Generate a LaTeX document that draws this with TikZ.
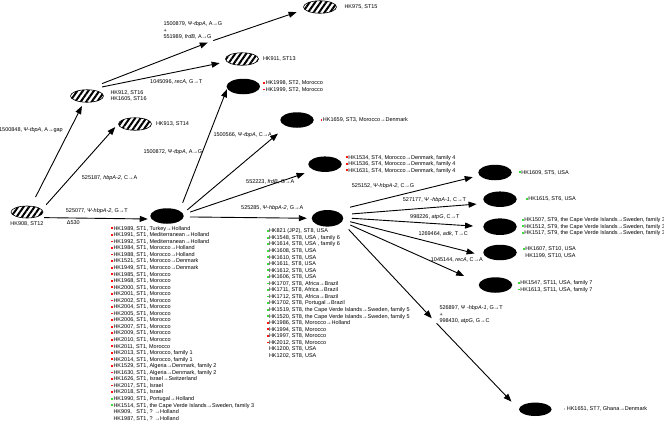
\documentclass[tikz,border=0pt]{standalone}
\usepackage{fontspec}
\setmainfont{Liberation Sans}
\usepackage{tikz}
\usetikzlibrary{positioning}
\usetikzlibrary{shapes.geometric}
\usetikzlibrary{arrows.meta}
\usetikzlibrary{patterns.meta}

\definecolor{dotred}{RGB}{250,20,20}
\definecolor{dotgreen}{RGB}{60,220,60}
\definecolor{dotgrey}{RGB}{190,205,190}

\newcommand{\lbl}{\fontsize{5.5}{6.55}\selectfont}
\newcommand{\rd}{\textcolor{dotred}{\rule[0.9pt]{1.8pt}{1.8pt}}\hspace{0.5pt}}
\newcommand{\gd}{\textcolor{dotgreen}{\rule[0.9pt]{1.8pt}{1.8pt}}\hspace{0.5pt}}
\newcommand{\od}{\textcolor{dotgrey}{\rule[0.9pt]{1.8pt}{1.8pt}}\hspace{1.5pt}}
\newcommand{\nd}{\hphantom{\rule{1.8pt}{1.8pt}}\hspace{0.5pt}}

\tikzset{
  hatched/.style={ellipse, draw, line width=0.6pt, minimum width=33pt, minimum height=12.5pt, inner sep=0pt,
    pattern={Lines[angle=55,distance=4.5pt,line width=2pt]}},
  blob/.style={ellipse, fill=black, minimum width=33.5pt, minimum height=15.5pt, inner sep=0pt},
  arr/.style={-{Triangle[length=8pt,width=6pt]}, line width=0.9pt},
  txt/.style={font=\lbl, inner sep=0pt, text height=4pt, text depth=1.2pt},
  lst/.style={font=\lbl, inner sep=0pt, align=left},
}

\begin{document}
\begin{tikzpicture}[x=1pt,y=-1pt]
\useasboundingbox (0,0) rectangle (664,421);

\node[hatched, minimum width=32pt, minimum height=12pt] (hk908) at (27,212) {};
\node[hatched] (hk912) at (87,96) {};
\node[hatched] (hk913) at (135,124) {};
\node[hatched] (hk911) at (242,59) {};
\node[hatched] (hk975) at (320,7) {};

\node[blob] (st1) at (167,216) {};
\node[blob] (st2) at (243.3,86.5) {};
\node[blob] (st3) at (297,120) {};
\node[blob] (st4) at (325,164.2) {};
\node[blob, minimum width=31.6pt, minimum height=16.6pt] (st8) at (327.5,218.3) {};
\node[blob] (st5) at (495,172.5) {};
\node[blob] (st6) at (500,199.2) {};
\node[blob, minimum height=16.6pt] (st9) at (500,226.7) {};
\node[blob] (st10) at (500,252.5) {};
\node[blob] (st11) at (495.5,285) {};
\node[blob, minimum width=32.6pt, minimum height=13.4pt] (st7) at (535.3,409.3) {};

\coordinate (hyp1) at (210.5,41.5);
\coordinate (hyp2) at (434.2,320.8);

\node[txt, below=2pt of hk908] (hk908lab) {HK908, ST12};
\node[lst, right=6.5pt of hk912] (hk912lab) {HK912, ST16\\HK1605, ST16};
\node[txt, right=4pt of hk913] (hk913lab) {HK913, ST14};
\node[txt, right=4pt of hk911] (hk911lab) {HK911, ST13};
\node[txt, right=7.5pt of hk975] (hk975lab) {HK975, ST15};

\node[lst, right=3pt of st2] (st2lab) {\rd HK1998, ST2, Morocco\\\rd HK1999, ST2, Morocco};
\node[lst, right=6.5pt of st3] (st3lab) {\rd HK1659, ST3, Morocco→Denmark};
\node[lst, right=4pt of st4] (st4lab) {\rd HK1534, ST4, Morocco→Denmark, family 4\\
  \rd HK1536, ST4, Morocco→Denmark, family 4\\\rd HK1631, ST4, Morocco→Denmark, family 4};
\node[lst, right=7pt of st5] (st5lab) {\gd HK1609, ST5, USA};
\node[lst, right=9pt of st6] (st6lab) {\gd HK1615, ST6, USA};
\node[lst, right=5pt of st9] (st9lab) {\gd HK1507, ST9, the Cape Verde Islands→Sweden, family 3\\
  \gd HK1512, ST9, the Cape Verde Islands→Sweden, family 3\\
  \gd HK1517, ST9, the Cape Verde Islands→Sweden, family 3};
\node[lst, right=6pt of st10] (st10lab) {\gd HK1607, ST10, USA\\\nd HK1199, ST10, USA};
\node[lst, right=5.5pt of st11, yshift=-1.5pt] (st11lab) {\gd HK1547, ST11, USA, family 7\\\gd HK1613, ST11, USA, family 7};
\node[lst, right=11.5pt of st7] (st7lab) {\od HK1651, ST7, Ghana→Denmark};

\node[lst, anchor=north west] (st1list) at (111,226) {\rd HK1989, ST1, Turkey→Holland\\
\rd HK1991, ST1, Mediterranean→Holland\\
\rd HK1992, ST1, Mediterranean→Holland\\
\rd HK1984, ST1, Morocco→Holland\\
\rd HK1988, ST1, Morocco→Holland\\
\rd HK1521, ST1, Morocco→Denmark\\
\rd HK1949, ST1, Morocco→Denmark\\
\rd HK1985, ST1, Morocco\\
\rd HK1968, ST1, Morocco\\
\rd HK2000, ST1, Morocco\\
\rd HK2001, ST1, Morocco\\
\rd HK2002, ST1, Morocco\\
\rd HK2004, ST1, Morocco\\
\rd HK2005, ST1, Morocco\\
\rd HK2006, ST1, Morocco\\
\rd HK2007, ST1, Morocco\\
\rd HK2009, ST1, Morocco\\
\rd HK2010, ST1, Morocco\\
\rd HK2011, ST1, Morocco\\
\rd HK2013, ST1, Morocco, family 1\\
\rd HK2014, ST1, Morocco, family 1\\
\rd HK1529, ST1, Algeria→Denmark, family 2\\
\rd HK1630, ST1, Algeria→Denmark, family 2\\
\rd HK1626, ST1, Israel→Switzerland\\
\rd HK2017, ST1, Israel\\
\rd HK2018, ST1, Israel\\
\gd HK1990, ST1, Portugal→Holland\\
\gd HK1514, ST1, the Cape Verde Islands→Sweden, family 3\\
\nd HK909,\hphantom{0} ST1, ? →Holland\\
\nd HK1987, ST1, ? →Holland};

\node[lst, anchor=north west] (st8list) at (266.5,228.7) {\gd HK821 (JP2), ST8, USA\\
\gd HK1548, ST8, USA , family 6\\
\gd HK1614, ST8, USA , family 6\\
\gd HK1608, ST8, USA\\
\gd HK1610, ST8, USA\\
\gd HK1611, ST8, USA\\
\gd HK1612, ST8, USA\\
\gd HK1606, ST8, USA\\
\gd HK1707, ST8, Africa→Brazil\\
\gd HK1711, ST8, Africa→Brazil\\
\gd HK1712, ST8, Africa→Brazil\\
\gd HK1702, ST8, Portugal→Brazil\\
\gd HK1519, ST8, the Cape Verde Islands→Sweden, family 5\\
\gd HK1520, ST8, the Cape Verde Islands→Sweden, family 5\\
\rd HK1986, ST8, Morocco→Holland\\
\rd HK1994, ST8, Morocco\\
\rd HK1997, ST8, Morocco\\
\rd HK2012, ST8, Morocco\\
\nd HK1200, ST8, USA\\
\nd HK1202, ST8, USA};

\node[txt, anchor=east] (m1500848) at (63,130) {1500848, Ψ-\textit{tbpA}, A→gap};
\node[txt, anchor=west] (m525187) at (81.7,178.3) {525187, \textit{hbpA-2}, C→A};
\node[txt, anchor=west] (m525077) at (65.7,211) {525077, Ψ-\textit{hbpA-2}, G→T};
\node[txt, anchor=west] (del530) at (66.7,222.7) {Δ530};
\node[txt, anchor=west] (m1045096) at (150,81.7) {1045096, \textit{recA}, G→T};
\node[lst, anchor=west] (m1500879) at (163.3,30.5) {1500879, Ψ-\textit{tbpA}, A→G\\+\\551989, \textit{frdB}, A→G};
\node[txt, anchor=west] (m1500872) at (143.3,151.7) {1500872, Ψ-\textit{tbpA}, A→G};
\node[txt, anchor=west] (m1500566) at (213.3,135) {1500566, Ψ-\textit{tbpA}, C→A};
\node[txt, anchor=west] (m552223) at (246,181.7) {552223, \textit{frdB}, G→A};
\node[txt, anchor=west] (m525285) at (241,208.3) {525285, Ψ-\textit{hbpA-2}, G→A};
\node[txt, anchor=west] (m525152) at (351.7,186) {525152, Ψ-\textit{hbpA-2}, C→G};
\node[txt, anchor=west] (m527177) at (402.7,200) {527177, Ψ -\textit{hbpA-1}, C→T};
\node[txt, anchor=west] (m998226) at (410,217.3) {998226, \textit{atpG}, C→T};
\node[txt, anchor=west] (m1269464) at (418.3,234) {1269464, \textit{adk}, T→C};
\node[txt, anchor=west] (m1045144) at (430.7,260) {1045144, \textit{recA}, C→A};
\node[lst, anchor=west] (m526897) at (439.3,315) {526897, Ψ -\textit{hbpA-1}, G→T\\+\\998430, \textit{atpG}, G→C};

\draw[arr, shorten <=9.2pt, shorten >=4pt] (hk908.57) -- (hk912.243);
\draw[arr, shorten <=5.7pt, shorten >=4.5pt] (hk908.11) -- (hk913.179);
\draw[arr, shorten <=6.8pt, shorten >=3.6pt] (hk908.332) -- (st1.191);
\draw[arr, shorten <=16pt, shorten >=2.9pt] (hk912.north) -- (hyp1);
\draw[arr, shorten <=2.9pt, shorten >=8.3pt] (hyp1) -- (hk975.189);
\draw[arr, shorten <=13pt, shorten >=7.2pt] (hk912.70) -- (hk911.190);

\draw[arr, shorten <=8.5pt, shorten >=0.5pt] (st1.23) -- (st2.188);
\draw[arr, shorten <=5.5pt, shorten >=11.2pt] (st1.9) -- (st3.211);
\draw[arr, shorten <=7pt, shorten >=9.7pt] (st1.6) -- (st4.208);
\draw[arr, shorten <=6pt, shorten >=4.7pt] (st1.357) -- (st8.180);

\foreach \s/\ls/\t/\lt in {44/15.4/st5.191/6.8, 14/10.2/st6.196/9, 2/8.3/st9.180/10,
    354/7.2/st10.193/10.5, 348/8.7/st11.172/16.5}
  \draw[arr, shorten <=\ls pt, shorten >=\lt pt] (st8.\s) -- (\t);
\draw[arr, shorten <=10pt, shorten >=3.5pt] (st8.345) -- (hyp2);
\draw[arr, shorten <=3.5pt, shorten >=10.6pt] (hyp2) -- (st7.180);
\end{tikzpicture}
\end{document}
